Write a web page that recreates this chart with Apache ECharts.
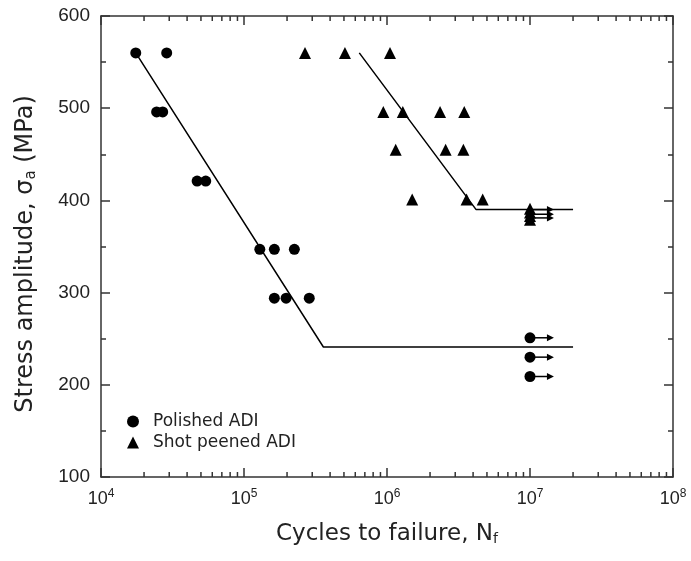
<!DOCTYPE html>
<html>
<head>
<meta charset="utf-8">
<script src="https://cdn.jsdelivr.net/npm/echarts@6/dist/echarts.min.js"></script>
<style>
html,body{margin:0;padding:0;background:#fff;}
#c{width:691px;height:561px;}
</style>
</head>
<body>
<div id="c"></div>
<script>
// ---- data ----
var polishedX = [17500, 28800, 24500, 27000, 47000, 54000, 129000, 163000, 225000, 163000, 197000, 286000, 1e7, 1e7, 1e7];
var polishedY = [560, 560, 496, 496, 421, 421, 347, 347, 347, 294, 294, 294, 251, 230, 209];
var peenedX = [267000, 508000, 1050000, 942000, 1290000, 2350000, 3470000, 1150000, 2570000, 3420000, 1500000, 3600000, 4670000, 1e7, 1e7, 1e7, 1e7];
var peenedY = [560, 560, 560, 496, 496, 496, 496, 455, 455, 455, 401, 401, 401, 391, 387, 383, 379];
var polishedFitX = [17500, 359000, 2e7];
var polishedFitY = [560, 241, 241];
var peenedFitX = [640000, 4200000, 2e7];
var peenedFitY = [560, 390, 390];
var polishedRunoutY = [251, 230, 209];
var peenedRunoutY = [390, 385, 381];
var runoutStart = 1e7;
var runoutEnd = 1.47e7;
var xMinorTicks = [];
[1e4, 1e5, 1e6, 1e7].forEach(function (d) { for (var k = 2; k <= 9; k++) xMinorTicks.push(k * d); });

function zip(xs, ys) { return xs.map(function (x, i) { return [x, ys[i]]; }); }

var fontFam = '"Liberation Sans", Arial, sans-serif';
var wideFam = '"DejaVu Sans", sans-serif';
var ink = '#000';
var axisCol = '#333';
var txt = '#222';

function expLabel(v) {
  var e = Math.round(Math.log10(v));
  return '{b|10}{s|' + e + '}';
}
var labelRich = {
  b: { fontSize: 18, fontFamily: fontFam, color: txt },
  s: { fontSize: 12, fontFamily: fontFam, color: txt, padding: [0, 0, 10, 0] }
};

var arrowData = polishedRunoutY.map(function (y) { return [runoutStart, y, runoutEnd]; })
  .concat(peenedRunoutY.map(function (y) { return [runoutStart, y, runoutEnd]; }));

var chart = echarts.init(document.getElementById('c'), null, { renderer: 'canvas' });
chart.setOption({
  backgroundColor: '#fff',
  animation: false,
  textStyle: { fontFamily: fontFam },
  grid: { left: 101, right: 18, top: 16, bottom: 84, containLabel: false },
  legend: {
    orient: 'vertical', left: 127, top: 413, itemGap: 4, padding: 0,
    itemWidth: 12, itemHeight: 12,
    textStyle: { fontSize: 17, color: txt, fontFamily: wideFam, padding: [0, 0, 0, 9] },
    data: [
      { name: 'Polished ADI', icon: 'circle' },
      { name: 'Shot peened ADI', icon: 'triangle' }
    ]
  },
  xAxis: [{
    type: 'log', logBase: 10, min: 1e4, max: 1e8, position: 'bottom',
    name: 'Cycles to failure, N{sub|f}', nameLocation: 'middle', nameGap: 46,
    nameTextStyle: { fontSize: 23, color: txt, fontFamily: wideFam,
      rich: { sub: { fontSize: 14, color: txt, padding: [0, 0, -10, 0], fontFamily: wideFam } } },
    axisLine: { show: true, lineStyle: { color: axisCol, width: 1.5 } },
    axisTick: { show: true, inside: true, length: 9, lineStyle: { color: axisCol, width: 1.5 } },
    axisLabel: { formatter: expLabel, rich: labelRich, margin: 11 },
    splitLine: { show: false }
  }, {
    type: 'log', logBase: 10, min: 1e4, max: 1e8, position: 'top',
    axisLine: { show: true, lineStyle: { color: axisCol, width: 1.5 } },
    axisTick: { show: true, inside: true, length: 9, lineStyle: { color: axisCol, width: 1.5 } },
    axisLabel: { show: false },
    splitLine: { show: false }
  }],
  yAxis: [{
    type: 'value', min: 100, max: 600, interval: 100, position: 'left',
    name: 'Stress amplitude, σ{sub|a} (MPa)', nameLocation: 'middle', nameGap: 63, nameRotate: 90,
    nameTextStyle: { fontSize: 24, color: txt, fontFamily: wideFam, padding: [0, 15, 0, 0],
      rich: { sub: { fontSize: 15, color: txt, padding: [0, 0, -10, 0], fontFamily: wideFam } } },
    axisLine: { show: true, lineStyle: { color: axisCol, width: 1.5 } },
    axisTick: { show: true, inside: true, length: 9, lineStyle: { color: axisCol, width: 1.5 } },
    minorTick: { show: true, splitNumber: 2, length: 5, lineStyle: { color: axisCol, width: 1.5 } },
    axisLabel: { fontSize: 19, color: txt, margin: 11, fontFamily: fontFam },
    splitLine: { show: false }
  }, {
    type: 'value', min: 100, max: 600, interval: 100, position: 'right',
    axisLine: { show: true, lineStyle: { color: axisCol, width: 1.5 } },
    axisTick: { show: true, inside: true, length: 9, lineStyle: { color: axisCol, width: 1.5 } },
    minorTick: { show: true, splitNumber: 2, length: 5, lineStyle: { color: axisCol, width: 1.5 } },
    axisLabel: { show: false },
    splitLine: { show: false }
  }],
  series: [
    {
      name: 'minorTicks', type: 'custom', silent: true, z: 1,
      data: xMinorTicks.map(function (v) { return [v]; }),
      renderItem: function (params, api) {
        var v = api.value(0);
        var b = api.coord([v, 100]);
        var t = api.coord([v, 600]);
        var st = { stroke: axisCol, lineWidth: 1.5 };
        return { type: 'group', children: [
          { type: 'line', shape: { x1: b[0], y1: b[1], x2: b[0], y2: b[1] - 5 }, style: st },
          { type: 'line', shape: { x1: t[0], y1: t[1], x2: t[0], y2: t[1] + 5 }, style: st }
        ] };
      }
    },
    {
      name: 'polishedFit', type: 'line', data: zip(polishedFitX, polishedFitY),
      symbol: 'none', lineStyle: { color: ink, width: 1.5 }, z: 2
    },
    {
      name: 'peenedFit', type: 'line', data: zip(peenedFitX, peenedFitY),
      symbol: 'none', lineStyle: { color: ink, width: 1.5 }, z: 2
    },
    {
      name: 'arrows', type: 'custom', z: 3,
      data: arrowData,
      renderItem: function (params, api) {
        var p0 = api.coord([api.value(0), api.value(1)]);
        var p1 = api.coord([api.value(2), api.value(1)]);
        return { type: 'group', children: [
          { type: 'line', shape: { x1: p0[0], y1: p0[1], x2: p1[0] - 6, y2: p1[1] }, style: { stroke: ink, lineWidth: 1.5 } },
          { type: 'polygon', shape: { points: [[p1[0], p1[1]], [p1[0] - 7, p1[1] - 3.5], [p1[0] - 7, p1[1] + 3.5]] }, style: { fill: ink } }
        ] };
      }
    },
    {
      name: 'Polished ADI', type: 'scatter', data: zip(polishedX, polishedY),
      symbol: 'circle', symbolSize: 11, itemStyle: { color: ink, opacity: 1 }, z: 4
    },
    {
      name: 'Shot peened ADI', type: 'scatter', data: zip(peenedX, peenedY),
      symbol: 'triangle', symbolSize: 12, itemStyle: { color: ink, opacity: 1 }, z: 4
    }
  ]
});
</script>
</body>
</html>
